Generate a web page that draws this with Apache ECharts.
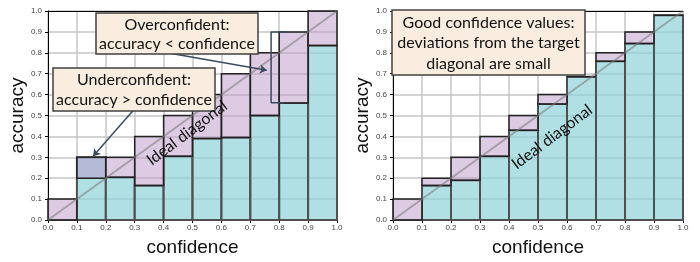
<!DOCTYPE html>
<html>
<head>
<meta charset="utf-8">
<script src="https://cdn.jsdelivr.net/npm/echarts@6/dist/echarts.min.js"></script>
<style>
  html, body { margin: 0; padding: 0; background: #fff; }
  #chart { width: 700px; height: 262px; }
</style>
</head>
<body>
<div id="chart"></div>
<script>
  // bins along the confidence axis
  let binEdges = [0, 0.1, 0.2, 0.3, 0.4, 0.5, 0.6, 0.7, 0.8, 0.9, 1.0];

  // left panel: badly calibrated network
  let leftAccuracy = [0, 0.3, 0.205, 0.165, 0.305, 0.39, 0.395, 0.5, 0.56, 0.835];
  let leftExpected = [0.1, 0.2, 0.3, 0.4, 0.5, 0.6, 0.7, 0.8, 0.9, 1.0];

  // right panel: well calibrated network
  let rightAccuracy = [0, 0.165, 0.19, 0.305, 0.43, 0.555, 0.685, 0.76, 0.845, 0.98];
  let rightExpected = [0.1, 0.2, 0.3, 0.4, 0.5, 0.6, 0.685, 0.8, 0.9, 0.98];

  let diagonal = [[0, 0], [1, 1]];

  // annotation arrows / bracket (data coordinates, left panel)
  let underArrow = [[0.30, 0.532], [0.156, 0.305]];
  let overArrow = [[0.432, 0.795], [0.757, 0.716]];
  let gapBracket = [[0.817, 0.9], [0.772, 0.9], [0.772, 0.561], [0.817, 0.561]];

  let cyanFill = 'rgba(142, 209, 216, 0.7)';
  let purpleFill = 'rgba(185, 151, 199, 0.5)';
  let tickFont = 'Liberation Sans';
  let noteFont = 'Lato';

  function accRects(acc) {
    return acc.map((v, i) => [binEdges[i], binEdges[i + 1], 0, v]);
  }
  function gapRects(acc, exp) {
    return acc.map((v, i) => [binEdges[i], binEdges[i + 1], Math.min(v, exp[i]), Math.max(v, exp[i])]);
  }
  function rectRenderer(fill, stroke, width) {
    return function (params, api) {
      let p0 = api.coord([api.value(0), api.value(3)]);
      let p1 = api.coord([api.value(1), api.value(2)]);
      return {
        type: 'rect',
        shape: { x: p0[0], y: p0[1], width: p1[0] - p0[0], height: p1[1] - p0[1] },
        style: { fill: fill, stroke: stroke, lineWidth: width }
      };
    };
  }

  function bottomAxis(gridIndex) {
    return {
      type: 'value', gridIndex: gridIndex, min: 0, max: 1, interval: 0.1,
      name: 'confidence', nameLocation: 'middle', nameGap: 18,
      nameTextStyle: { fontFamily: tickFont, fontSize: 19, color: '#111' },
      axisLine: { lineStyle: { color: '#000', width: 1 } },
      axisTick: { show: true, length: 3, lineStyle: { color: '#000' } },
      axisLabel: { fontFamily: tickFont, fontSize: 8, color: '#444', margin: 4,
        formatter: v => v.toFixed(1) },
      splitLine: { lineStyle: { color: '#c6c6c6', width: 1.5 } }
    };
  }
  function topAxis(gridIndex) {
    return {
      type: 'value', gridIndex: gridIndex, position: 'top', min: 0, max: 1,
      axisLine: { show: true, lineStyle: { color: '#000', width: 1 } },
      axisTick: { show: false }, axisLabel: { show: false }, splitLine: { show: false }
    };
  }
  function leftAxis(gridIndex) {
    return {
      type: 'value', gridIndex: gridIndex, min: 0, max: 1, interval: 0.1,
      name: 'accuracy', nameLocation: 'middle', nameGap: 21,
      nameTextStyle: { fontFamily: tickFont, fontSize: 19, color: '#111' },
      axisLine: { show: true, lineStyle: { color: '#000', width: 1 } },
      axisTick: { show: true, length: 3, lineStyle: { color: '#000' } },
      axisLabel: { fontFamily: tickFont, fontSize: 8, color: '#444', margin: 6,
        formatter: v => v.toFixed(1) },
      splitLine: { lineStyle: { color: '#c6c6c6', width: 1.5 } }
    };
  }

  function panelSeries(idx, acc, exp) {
    return [{
      type: 'custom', xAxisIndex: idx, yAxisIndex: idx, z: 2,
      renderItem: rectRenderer(cyanFill, '#505050', 2),
      encode: { x: [0, 1], y: [2, 3] },
      data: accRects(acc)
    }, {
      type: 'custom', xAxisIndex: idx, yAxisIndex: idx, z: 3,
      renderItem: rectRenderer(purpleFill, '#222', 1.5),
      encode: { x: [0, 1], y: [2, 3] },
      data: gapRects(acc, exp)
    }, {
      type: 'line', xAxisIndex: idx, yAxisIndex: idx, z: 4,
      showSymbol: false, silent: true,
      lineStyle: { color: 'rgba(120, 120, 120, 0.55)', width: 2 },
      data: diagonal
    }];
  }

  function noteBox(x, y, w, h, lines, lineGap, firstY) {
    let els = [{
      type: 'rect', z: 100,
      shape: { x: x, y: y, width: w, height: h },
      style: { fill: '#f9ede0', stroke: '#404040', lineWidth: 1.5 }
    }];
    lines.forEach((t, i) => {
      els.push({
        type: 'text', z: 101, x: x + w / 2, y: firstY + i * lineGap,
        style: { text: t, x: 0, y: 0, align: 'center', verticalAlign: 'middle',
          textAlign: 'center', textVerticalAlign: 'middle',
          font: '16px ' + noteFont, fill: '#111' }
      });
    });
    return els;
  }
  function diagLabel(x, y) {
    return {
      type: 'text', z: 100, x: x, y: y, rotation: 37 * Math.PI / 180,
      style: { text: 'Ideal diagonal', x: 0, y: 0, align: 'center', verticalAlign: 'middle',
        textAlign: 'center', textVerticalAlign: 'middle',
        font: '16px ' + noteFont, fill: '#111' }
    };
  }

  let chart = echarts.init(document.getElementById('chart'));
  let arrowColor = '#3b4a5e';
  let option = {
    animation: false,
    grid: [
      { left: 48, top: 11, width: 289, height: 216 },
      { left: 393, top: 11, width: 290, height: 215 }
    ],
    xAxis: [bottomAxis(0), bottomAxis(1), topAxis(0), topAxis(1)],
    yAxis: [leftAxis(0), leftAxis(1)],
    series: panelSeries(0, leftAccuracy, leftExpected)
      .concat(panelSeries(1, rightAccuracy, rightExpected))
      .concat([{
        type: 'line', xAxisIndex: 0, yAxisIndex: 0, z: 5,
        showSymbol: false, silent: true,
        lineStyle: { color: arrowColor, width: 1.5 },
        data: gapBracket,
        markLine: {
          silent: true, symbol: ['none', 'arrow'], symbolSize: 7,
          label: { show: false },
          lineStyle: { color: arrowColor, width: 1.5, type: 'solid' },
          data: [
            [{ coord: underArrow[0] }, { coord: underArrow[1] }],
            [{ coord: overArrow[0] }, { coord: overArrow[1] }]
          ]
        }
      }]),
    graphic: [].concat(
      noteBox(96, 13, 162, 41, ['Overconfident:', 'accuracy < confidence'], 18.5, 25),
      noteBox(53, 68, 162, 43, ['Underconfident:', 'accuracy > confidence'], 20, 80),
      noteBox(392, 10, 193, 65, ['Good confidence values:', 'deviations from the target', 'diagonal are small'], 20.5, 22.5),
      [diagLabel(187, 133), diagLabel(552, 137)]
    )
  };
  chart.setOption(option);
</script>
</body>
</html>
